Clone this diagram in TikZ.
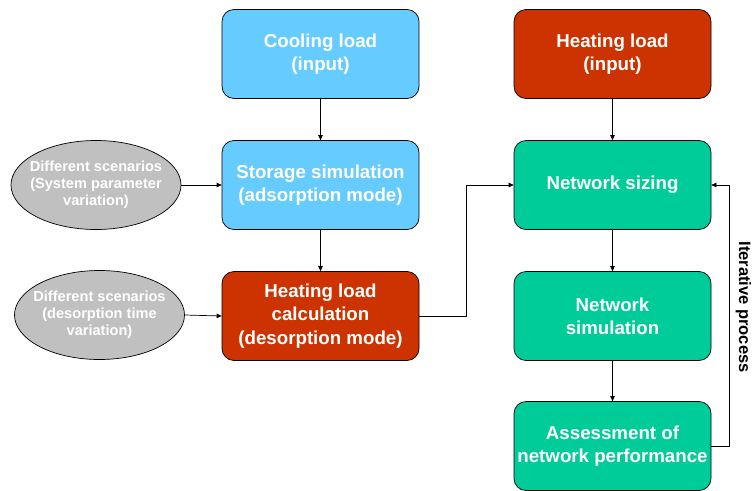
\documentclass[tikz,border=0pt]{standalone}
\usepackage{fontspec}
\setmainfont{Liberation Sans}
\usetikzlibrary{arrows.meta,shapes.geometric}
\definecolor{cblue}{HTML}{66CCFF}
\definecolor{cred}{HTML}{CC3300}
\definecolor{cgreen}{HTML}{00CC99}
\definecolor{cgray}{HTML}{C0C0C0}
\begin{document}
\begin{tikzpicture}[x=1pt,y=1pt,
  box/.style={draw=black,line width=0.7pt,rounded corners=12pt,minimum width=197pt,minimum height=89pt,
    align=center,text=white,font=\fontsize{18.7}{23.2}\selectfont\bfseries,inner sep=1pt},
  scen/.style={ellipse,draw=black,line width=0.7pt,fill=cgray,minimum width=170pt,minimum height=89pt,
    align=center,text=white,font=\fontsize{14.6}{17}\selectfont\bfseries,inner xsep=-8pt,inner ysep=0pt},
  arr/.style={draw=black,line width=0.7pt,-{Triangle[length=5pt,width=4.5pt]}}]
\useasboundingbox (0,0) rectangle (752,-490);
\node[box,fill=cblue] (cool) at (320.5,-54) {Cooling load\\(input)};
\node[box,fill=cblue] (stor) at (320.5,-185) {Storage simulation\\(adsorption mode)};
\node[box,fill=cred] (hcalc) at (320.5,-316) {Heating load\\calculation\\(desorption mode)};
\node[box,fill=cred] (hin) at (612.5,-54) {Heating load\\(input)};
\node[box,fill=cgreen] (size) at (612.5,-185) {Network sizing};
\node[box,fill=cgreen] (nsim) at (612.5,-316) {Network\\simulation};
\node[box,fill=cgreen] (assess) at (612.5,-446) {Assessment of\\network performance};
\node[scen] (s1) at (96,-185) {Different scenarios\\(System parameter\\variation)};
\node[scen] (s2) at (99.5,-315) {Different scenarios\\(desorption time\\variation)};
\coordinate (j1) at (466,-316);
\coordinate (j2) at (466,-185);
\coordinate (f1) at (729,-446);
\coordinate (f2) at (729,-185);
\draw[arr] (cool) -- (stor);
\draw[arr] (stor) -- (hcalc);
\draw[arr] (s1) -- (stor);
\draw[arr] (s2.east) -- (hcalc.west);
\draw[arr] (hcalc.east) -- (j1) -- (j2) -- (size.west);
\draw[arr] (hin) -- (size);
\draw[arr] (size) -- (nsim);
\draw[arr] (nsim) -- (assess);
\draw[arr] (assess.east) -- (f1) -- (f2) -- (size.east);
\node[rotate=-90,font=\fontsize{16.5}{20}\selectfont\bfseries,inner sep=0pt] (iter) at (743.5,-307) {Iterative process};
\end{tikzpicture}
\end{document}
